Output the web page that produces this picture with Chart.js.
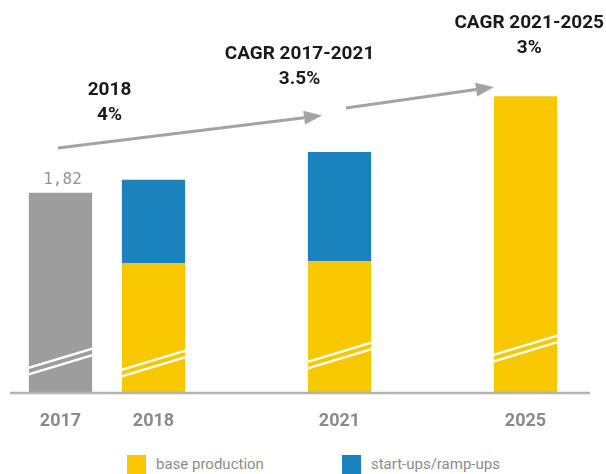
<!DOCTYPE html>
<html lang="en">
<head>
    <meta charset="UTF-8">
    <title>Production outlook</title>
    <script src="https://cdn.jsdelivr.net/npm/chart.js"></script>
    <style>
        body {
            margin: 0;
            padding: 0;
            background-color: #ffffff;
            font-family: Roboto, sans-serif;
        }
        .wrap {
            position: relative;
            width: 606px;
            height: 474px;
            overflow: hidden;
        }
        #productionChart {
            position: absolute;
            top: 0;
            left: 0;
        }
        .legend {
            position: absolute;
            top: 455px;
            left: 127px;
            display: flex;
            align-items: center;
        }
        .legend-item {
            display: flex;
            align-items: center;
            margin-right: 78px;
        }
        .legend-box {
            width: 19px;
            height: 19px;
            margin-right: 10px;
        }
        .legend-text {
            font-size: 15px;
            color: #8c8c8c;
            line-height: 19px;
        }
    </style>
</head>
<body>
    <div class="wrap">
        <canvas id="productionChart" width="606" height="440"></canvas>
        <div class="legend" id="legend"></div>
    </div>

    <script>
        // categories (blank slots keep the years spaced out)
        const years = ['2017', '2018', '', '2021', '', '2025'];
        const actual = [1.82, null, null, null, null, null];
        const baseProduction = [null, 1.39, null, 1.40, null, 2.41];
        const startUps = [null, 0.51, null, 0.67, null, null];

        const growthNotes = [
            { lines: ['CAGR 2021-2025', '3%'], x: 5.04, y: 2.856 },
            { lines: ['CAGR 2017-2021', '3.5%'], x: 2.57, y: 2.666 },
            { lines: ['2018', '4%'], x: 0.527, y: 2.446 }
        ];
        const growthArrows = [
            { from: [-0.027, 2.094], to: [2.812, 2.293] },
            { from: [3.07, 2.339], to: [4.661, 2.467] }
        ];

        const YELLOW = '#f7c800';
        const BLUE = '#1a83be';
        const GREY = '#9d9d9d';

        // axis line under the bars, a bit wider than the plot area
        const baseLine = {
            id: 'baseLine',
            afterDatasetsDraw(chart) {
                const { ctx, chartArea } = chart;
                ctx.save();
                ctx.strokeStyle = '#b3b3b3';
                ctx.lineWidth = 2.5;
                ctx.beginPath();
                ctx.moveTo(chartArea.left - 4, chartArea.bottom + 1);
                ctx.lineTo(chartArea.right + 18, chartArea.bottom + 1);
                ctx.stroke();
                ctx.restore();
            }
        };

        // double slash near the foot of each bar (axis does not start at zero)
        const axisBreaks = {
            id: 'axisBreaks',
            afterDatasetsDraw(chart, args, opts) {
                const { ctx, chartArea } = chart;
                const bottom = chartArea.bottom;
                years.forEach((year, i) => {
                    if (!year) return;
                    let bar = null;
                    chart.data.datasets.forEach((ds, d) => {
                        if (!bar && ds.data[i] != null) {
                            bar = chart.getDatasetMeta(d).data[i];
                        }
                    });
                    if (!bar) return;
                    const left = bar.x - bar.width / 2;
                    const right = bar.x + bar.width / 2;
                    const off = opts.offsets[i];
                    ctx.save();
                    ctx.beginPath();
                    ctx.rect(left, chartArea.top, bar.width, bottom - chartArea.top);
                    ctx.clip();
                    ctx.strokeStyle = '#ffffff';
                    ctx.lineWidth = 2.5;
                    [-opts.gap / 2, opts.gap / 2].forEach(g => {
                        ctx.beginPath();
                        ctx.moveTo(left - 2, bottom - off - g + 0.6);
                        ctx.lineTo(right + 2, bottom - off - g - opts.rise - 0.6);
                        ctx.stroke();
                    });
                    ctx.restore();
                });
            }
        };

        // value over the 2017 bar
        const valueLabel = {
            id: 'valueLabel',
            afterDatasetsDraw(chart) {
                const { ctx } = chart;
                const meta = chart.getDatasetMeta(0);
                ctx.save();
                ctx.font = '16px "DejaVu Sans Mono", monospace';
                ctx.fillStyle = '#929292';
                ctx.textAlign = 'center';
                ctx.textBaseline = 'alphabetic';
                actual.forEach((v, i) => {
                    if (v == null) return;
                    const bar = meta.data[i];
                    ctx.fillText(v.toFixed(2).replace('.', ','), bar.x + 2, bar.y - 9);
                });
                ctx.restore();
            }
        };

        // CAGR notes and grey arrows
        const growthLayer = {
            id: 'growthLayer',
            afterDraw(chart) {
                const { ctx, scales: { x, y } } = chart;
                ctx.save();
                ctx.strokeStyle = '#a3a3a3';
                ctx.fillStyle = '#a3a3a3';
                ctx.lineWidth = 3;
                growthArrows.forEach(a => {
                    const x1 = x.getPixelForValue(a.from[0]);
                    const y1 = y.getPixelForValue(a.from[1]);
                    const x2 = x.getPixelForValue(a.to[0]);
                    const y2 = y.getPixelForValue(a.to[1]);
                    const ang = Math.atan2(y2 - y1, x2 - x1);
                    const head = 18;
                    const half = 7;
                    const bx = x2 - head * Math.cos(ang);
                    const by = y2 - head * Math.sin(ang);
                    ctx.beginPath();
                    ctx.moveTo(x1, y1);
                    ctx.lineTo(bx, by);
                    ctx.stroke();
                    ctx.beginPath();
                    ctx.moveTo(x2, y2);
                    ctx.lineTo(bx + half * Math.sin(ang), by - half * Math.cos(ang));
                    ctx.lineTo(bx - half * Math.sin(ang), by + half * Math.cos(ang));
                    ctx.closePath();
                    ctx.fill();
                });

                ctx.fillStyle = '#1a1a1a';
                ctx.font = 'bold 19px Roboto, sans-serif';
                ctx.textAlign = 'center';
                ctx.textBaseline = 'middle';
                growthNotes.forEach(n => {
                    const px = x.getPixelForValue(n.x);
                    const py = y.getPixelForValue(n.y);
                    n.lines.forEach((line, k) => ctx.fillText(line, px, py + k * 25));
                });
                ctx.restore();
            }
        };

        const ctx = document.getElementById('productionChart').getContext('2d');
        const chart = new Chart(ctx, {
            type: 'bar',
            data: {
                labels: years,
                datasets: [
                    {
                        label: '2017',
                        data: actual,
                        backgroundColor: GREY
                    },
                    {
                        label: 'base production',
                        data: baseProduction,
                        backgroundColor: YELLOW
                    },
                    {
                        label: 'start-ups/ramp-ups',
                        data: startUps,
                        backgroundColor: BLUE
                    }
                ]
            },
            options: {
                responsive: false,
                animation: false,
                layout: {
                    padding: { left: 14, right: 34, top: 0, bottom: 0 }
                },
                datasets: {
                    bar: {
                        categoryPercentage: 1,
                        barPercentage: 0.68,
                        borderWidth: 0
                    }
                },
                plugins: {
                    legend: { display: false },
                    tooltip: { enabled: false },
                    axisBreaks: {
                        offsets: [21, 19, 0, 27, 0, 34],
                        rise: 19,
                        gap: 6.5
                    }
                },
                scales: {
                    x: {
                        stacked: true,
                        grid: { display: false },
                        border: { display: false },
                        ticks: {
                            color: '#8a8a8a',
                            font: { family: 'Roboto', size: 18, weight: 'bold' },
                            padding: 11,
                            autoSkip: false,
                            maxRotation: 0
                        },
                        afterFit(scale) {
                            scale.height = 48;
                        }
                    },
                    y: {
                        stacked: true,
                        display: false,
                        min: 0.6,
                        max: 3.0
                    }
                }
            },
            plugins: [baseLine, axisBreaks, valueLabel, growthLayer]
        });

        // legend built from the chart's own series
        const legendEl = document.getElementById('legend');
        chart.data.datasets.slice(1).forEach(ds => {
            const item = document.createElement('div');
            item.className = 'legend-item';
            const box = document.createElement('span');
            box.className = 'legend-box';
            box.style.backgroundColor = ds.backgroundColor;
            const text = document.createElement('span');
            text.className = 'legend-text';
            text.textContent = ds.label;
            item.appendChild(box);
            item.appendChild(text);
            legendEl.appendChild(item);
        });
    </script>
</body>
</html>
